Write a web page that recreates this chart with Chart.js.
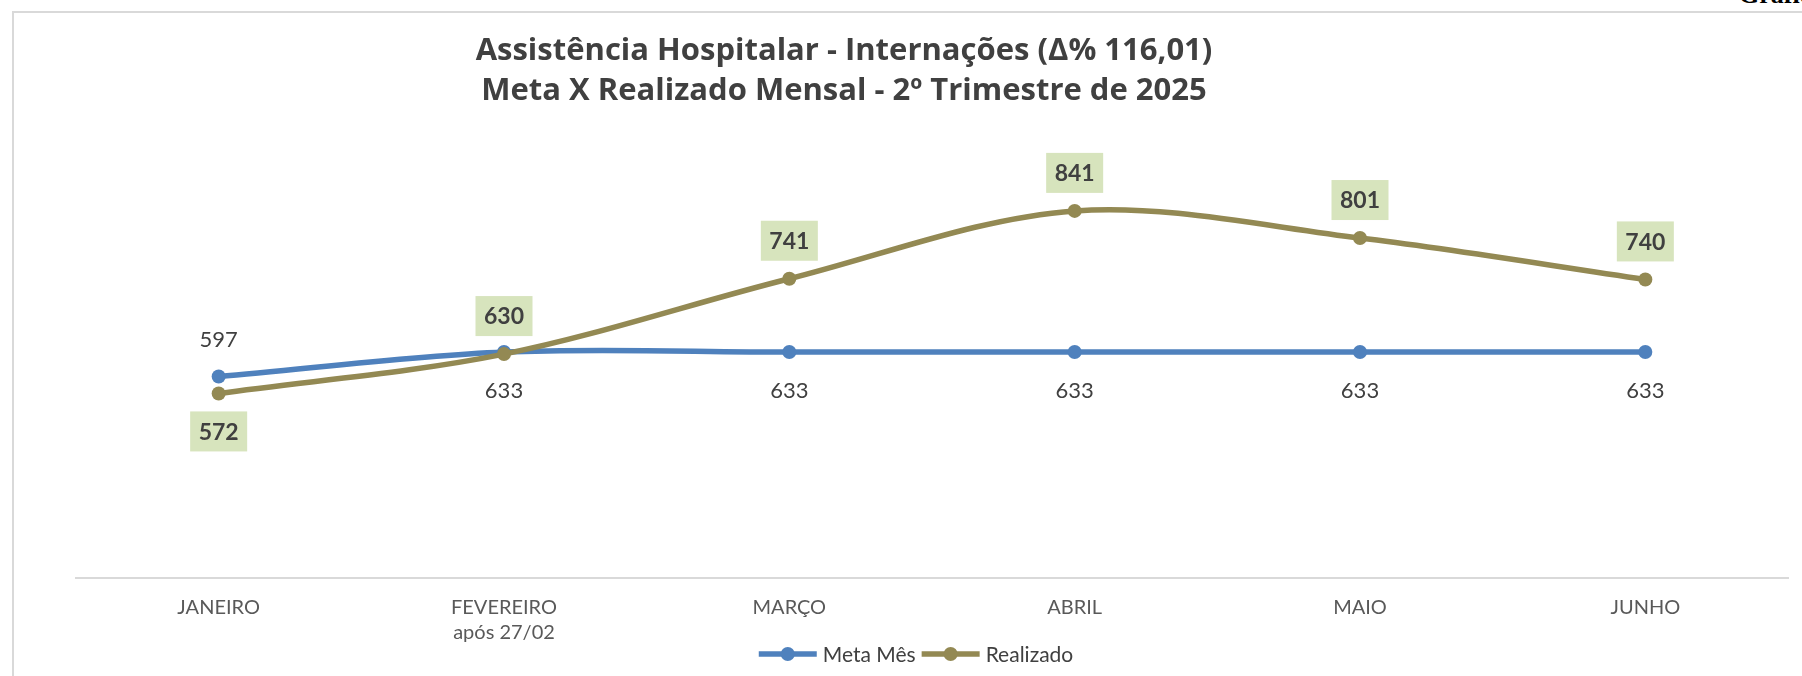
<!DOCTYPE html>
<html lang="pt-BR">
<head>
<meta charset="utf-8">
<title>Assistência Hospitalar - Internações</title>
<script src="https://cdn.jsdelivr.net/npm/chart.js@4.4.1/dist/chart.umd.min.js"></script>
<style>
  html, body { margin: 0; padding: 0; background: #fff; overflow: hidden; }
  #frame { position: absolute; left: 12px; top: 11px; right: 0; bottom: 0; border-left: 2px solid #d9d9d9; border-top: 2px solid #d9d9d9; }
  #corner { position: absolute; left: 1739px; top: -18px; font: bold 26px 'Liberation Serif', serif; line-height: 26px; color: #000; white-space: nowrap; }
  #myChart { position: absolute; left: 0; top: 0; }
</style>
</head>
<body>
<div id="frame"></div>
<div id="corner">Gráfico</div>
<canvas id="myChart" width="1802" height="676"></canvas>
<script>
const titleLines = ['Assistência Hospitalar - Internações (Δ% 116,01)', 'Meta X Realizado Mensal - 2º Trimestre de 2025'];
const categories = ['JANEIRO', ['FEVEREIRO', 'após 27/02'], 'MARÇO', 'ABRIL', 'MAIO', 'JUNHO'];
const metaMes = [597, 633, 633, 633, 633, 633];
const realizado = [572, 630, 741, 841, 801, 740];

// which side of the point each value label sits on
const metaSide = ['above', 'below', 'below', 'below', 'below', 'below'];
const realizadoSide = ['below', 'above', 'above', 'above', 'above', 'above'];

const titlePlugin = {
  id: 'twoLineTitle',
  afterDraw(chart, args, opts) {
    const c = chart.ctx;
    c.save();
    c.fillStyle = '#404040';
    c.font = 'bold 31px "Open Sans"';
    c.textAlign = 'center';
    c.textBaseline = 'alphabetic';
    titleLines.forEach((t, i) => c.fillText(t, opts.x, opts.y[i]));
    c.restore();
  }
};

const valueLabels = {
  id: 'valueLabels',
  afterDatasetsDraw(chart) {
    const c = chart.ctx;
    c.save();
    c.textAlign = 'center';
    c.textBaseline = 'middle';
    chart.data.datasets.forEach((ds, di) => {
      const meta = chart.getDatasetMeta(di);
      meta.data.forEach((pt, i) => {
        const up = ds.labelSide[i] === 'above';
        const y = pt.y + (up ? -38 : 38);
        const txt = String(ds.data[i]);
        if (ds.labelBox) {
          c.fillStyle = '#d7e4bd';
          c.fillRect(pt.x - 28.5, y - 20, 57, 40);
          c.font = 'bold 23px Lato';
        } else {
          c.font = '22px Lato';
        }
        c.fillStyle = '#404040';
        c.fillText(txt, pt.x, y + 1);
      });
    });
    c.restore();
  }
};

const legendPlugin = {
  id: 'bottomLegend',
  afterDraw(chart, args, opts) {
    const c = chart.ctx;
    c.save();
    c.font = '21px Lato';
    c.textBaseline = 'middle';
    const sym = 58, gap = 6, between = 6;
    const items = chart.data.datasets.map(ds => ({
      text: ds.label, color: ds.borderColor,
      w: sym + gap + c.measureText(ds.label).width
    }));
    const total = items.reduce((a, it) => a + it.w, 0) + between * (items.length - 1);
    let x = opts.centerX - total / 2;
    items.forEach(it => {
      c.strokeStyle = it.color;
      c.lineWidth = 5.5;
      c.beginPath();
      c.moveTo(x, opts.y);
      c.lineTo(x + sym, opts.y);
      c.stroke();
      c.fillStyle = it.color;
      c.beginPath();
      c.arc(x + sym / 2, opts.y, 7, 0, Math.PI * 2);
      c.fill();
      c.fillStyle = '#404040';
      c.fillText(it.text, x + sym + gap, opts.y + 1);
      x += it.w + between;
    });
    c.restore();
  }
};

const ctx = document.getElementById('myChart');

new Chart(ctx, {
  type: 'line',
  data: {
    labels: categories,
    datasets: [{
      label: 'Meta Mês',
      data: metaMes,
      borderColor: '#4f81bd',
      backgroundColor: '#4f81bd',
      borderWidth: 5.5,
      pointRadius: 7,
      pointHoverRadius: 7,
      pointBorderWidth: 0,
      tension: 0.33,
      order: 1,
      labelSide: metaSide,
      labelBox: false
    }, {
      label: 'Realizado',
      data: realizado,
      borderColor: '#938953',
      backgroundColor: '#938953',
      borderWidth: 5.5,
      pointRadius: 7,
      pointHoverRadius: 7,
      pointBorderWidth: 0,
      tension: 0.33,
      order: 0,
      labelSide: realizadoSide,
      labelBox: true
    }]
  },
  options: {
    responsive: false,
    animation: false,
    layout: {
      padding: { left: 76, right: 14, top: 103, bottom: 28 }
    },
    plugins: {
      legend: { display: false },
      title: { display: false },
      tooltip: { enabled: false },
      twoLineTitle: { x: 844, y: [60, 100] },
      bottomLegend: { centerX: 916, y: 654 }
    },
    scales: {
      x: {
        offset: true,
        grid: { display: false, drawTicks: false },
        border: { display: true, color: '#d9d9d9', width: 2 },
        ticks: {
          color: '#595959',
          font: { family: 'Lato', size: 20, lineHeight: 1.25 },
          padding: 17,
          maxRotation: 0,
          autoSkip: false
        },
        afterFit: (s) => { s.height = 70; }
      },
      y: {
        display: false,
        min: 300,
        max: 1000
      }
    }
  },
  plugins: [titlePlugin, valueLabels, legendPlugin]
});
</script>
</body>
</html>
